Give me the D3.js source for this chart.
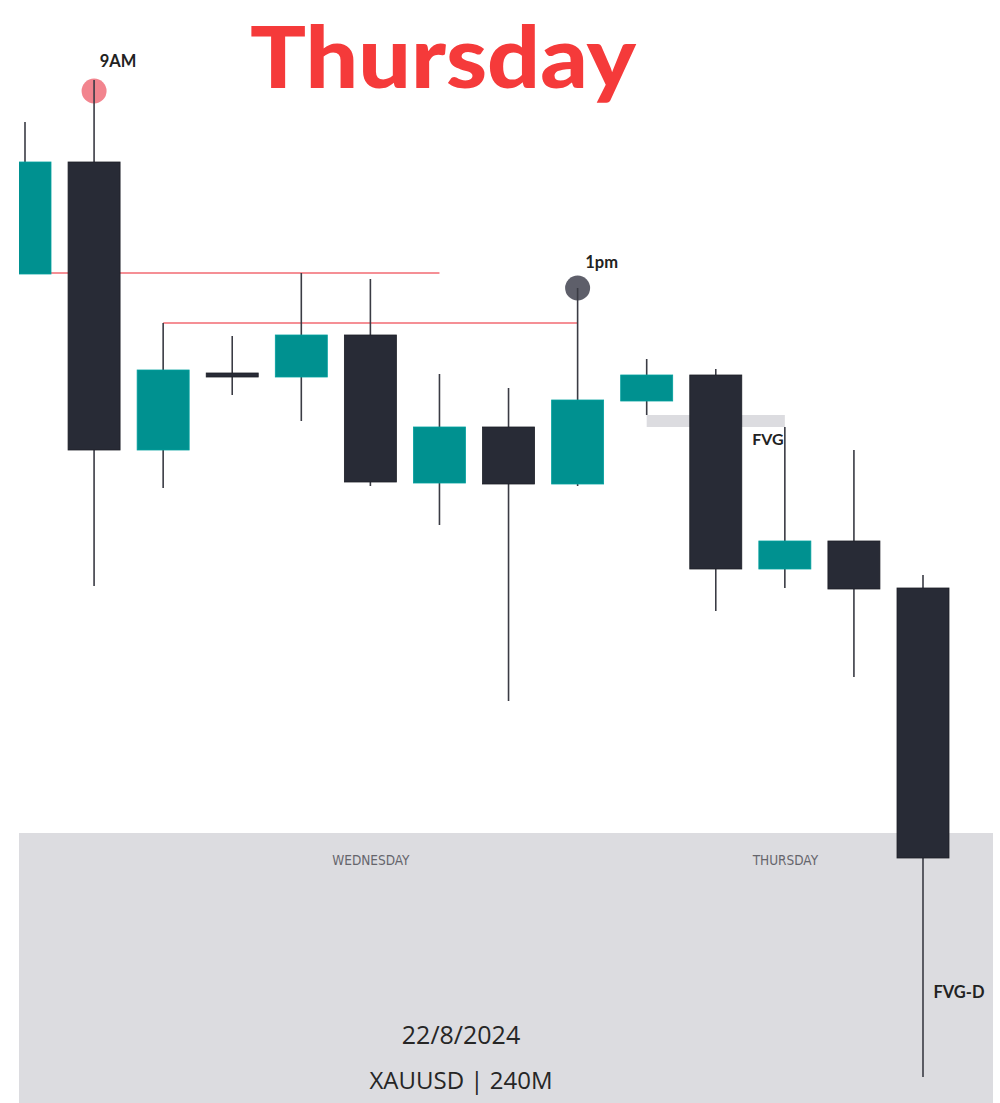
<!DOCTYPE html>
<html>
<head>
<meta charset="utf-8">
<script src="https://cdn.jsdelivr.net/npm/d3@7"></script>
<style>
  body { margin: 0; background: #fff; }
  svg { display: block; }
</style>
</head>
<body>
<div id="chart"></div>
<script>
// candle data (XAUUSD 240M), index = bar number
var opens  = [2501.30, 2506.90, 2492.50, 2496.25, 2496.15, 2498.25, 2490.85, 2493.65, 2490.80, 2494.95, 2496.25, 2486.55, 2487.95, 2485.60];
var highs  = [2508.90, 2511.00, 2498.85, 2498.20, 2501.35, 2501.05, 2496.30, 2495.60, 2500.60, 2497.05, 2496.55, 2493.65, 2492.50, 2486.25];
var lows   = [2501.30, 2485.70, 2490.60, 2495.25, 2493.95, 2490.70, 2488.75, 2479.95, 2490.70, 2494.25, 2484.45, 2485.60, 2481.15, 2461.15];
var closes = [2506.90, 2492.50, 2496.50, 2496.25, 2498.25, 2490.90, 2493.65, 2490.80, 2495.00, 2496.25, 2486.55, 2487.95, 2485.55, 2472.10];

// day separators on the time axis
var dayTicks  = [5, 11];
var dayLabels = ["WEDNESDAY", "THURSDAY"];

// liquidity lines [from bar, to bar, price]
var levels = [[0, 6, 2501.35], [2, 8, 2498.85]];
// fair value gap [from bar, to bar, top, bottom]
var fvg = [9, 11, 2494.25, 2493.65];
// session markers [bar, price, label, colour]
var markers = [[1, 2510.45, "9AM", "#f2848e"], [8, 2500.60, "1pm", "#5e5f6a"]];

var width = 1000, height = 1103;
var plot = {left: 19, right: 993, axisTop: 833};

var svg = d3.select("#chart").append("svg")
    .attr("width", width)
    .attr("height", height);

var x = d3.scaleLinear().domain([0, 13]).range([25, 923]);
var y = d3.scaleLinear().domain([2515, 2460]).range([0, 1100]);
var bodyW = 52;

svg.append("defs").append("clipPath").attr("id", "clip")
  .append("rect")
    .attr("x", plot.left).attr("y", 0)
    .attr("width", plot.right - plot.left).attr("height", height);

// bottom time-axis panel
svg.append("rect")
    .attr("x", plot.left).attr("y", plot.axisTop)
    .attr("width", plot.right - plot.left).attr("height", height - plot.axisTop)
    .attr("fill", "#dcdce0");

var xAxis = svg.append("g")
    .attr("transform", "translate(0," + plot.axisTop + ")")
    .call(d3.axisBottom(x).tickValues(dayTicks).tickSize(0)
      .tickFormat(function(d, i) { return dayLabels[i]; }));
xAxis.select(".domain").remove();
xAxis.selectAll("text")
    .attr("dy", 0).attr("y", 32)
    .attr("fill", "#65656c")
    .style("font-family", "'DejaVu Sans Condensed', 'DejaVu Sans', sans-serif")
    .style("font-stretch", "condensed")
    .style("font-size", "13.5px");

var g = svg.append("g").attr("clip-path", "url(#clip)");

// red levels
g.selectAll(".level").data(levels).enter().append("line")
    .attr("x1", function(d) { return x(d[0]); })
    .attr("x2", function(d) { return x(d[1]); })
    .attr("y1", function(d) { return y(d[2]); })
    .attr("y2", function(d) { return y(d[2]); })
    .attr("stroke", "#f26a72").attr("stroke-width", 1.6);

// FVG box
g.append("rect")
    .attr("x", x(fvg[0])).attr("y", y(fvg[2]))
    .attr("width", x(fvg[1]) - x(fvg[0])).attr("height", y(fvg[3]) - y(fvg[2]))
    .attr("fill", "#dcdce0");

// markers
g.selectAll(".marker").data(markers).enter().append("circle")
    .attr("cx", function(d) { return x(d[0]); })
    .attr("cy", function(d) { return y(d[1]); })
    .attr("r", 12.5)
    .attr("fill", function(d) { return d[3]; });

var idx = d3.range(opens.length);

// wicks
g.selectAll(".wick").data(idx).enter().append("line")
    .attr("x1", function(i) { return x(i); })
    .attr("x2", function(i) { return x(i); })
    .attr("y1", function(i) { return y(highs[i]); })
    .attr("y2", function(i) { return y(lows[i]); })
    .attr("stroke", "#3a3b44").attr("stroke-width", 1.6);

// bodies
g.selectAll(".body").data(idx).enter().append("rect")
    .attr("x", function(i) { return x(i) - bodyW / 2; })
    .attr("y", function(i) {
      var t = y(Math.max(opens[i], closes[i]));
      return opens[i] == closes[i] ? t - 2 : t;
    })
    .attr("width", bodyW)
    .attr("height", function(i) { return Math.max(4, Math.abs(y(opens[i]) - y(closes[i]))); })
    .attr("fill", function(i) { return closes[i] > opens[i] ? "#009190" : "#282b36"; })
    .attr("stroke", function(i) { return closes[i] > opens[i] ? "#00a09e" : "#1c1e26"; })
    .attr("stroke-width", 0.8);

// annotations
var lbl = { "font-family": "Lato, 'Open Sans', sans-serif", "font-weight": 700, "fill": "#222" };
function note(tx, ty, s, size, anchor) {
  var t = svg.append("text").attr("x", tx).attr("y", ty)
      .attr("text-anchor", anchor || "middle")
      .style("font-size", size + "px").text(s);
  for (var k in lbl) t.style(k, lbl[k]);
  return t;
}
var lift = [24, 20];
markers.forEach(function(m, i) {
  note(x(m[0]) + 24, y(m[1]) - lift[i], m[2], 16.5);
});
note(768, 445, "FVG", 16);
note(959, 998, "FVG-D", 16.5);

// title
svg.append("text")
    .attr("x", 443).attr("y", 88)
    .attr("text-anchor", "middle")
    .attr("textLength", 386)
    .attr("lengthAdjust", "spacingAndGlyphs")
    .style("font-family", "Lato, sans-serif")
    .style("font-weight", 900)
    .style("font-size", "86px")
    .attr("fill", "#f53a3a")
    .text("Thursday");

// footer
svg.append("text")
    .attr("x", 461).attr("y", 1044)
    .attr("text-anchor", "middle")
    .style("font-family", "'Open Sans', sans-serif")
    .style("font-size", "25px")
    .attr("fill", "#262626")
    .text("22/8/2024");
svg.append("text")
    .attr("x", 461).attr("y", 1089)
    .attr("text-anchor", "middle")
    .style("font-family", "'Open Sans', sans-serif")
    .style("font-size", "24px")
    .attr("fill", "#262626")
    .text("XAUUSD | 240M");
</script>
</body>
</html>
